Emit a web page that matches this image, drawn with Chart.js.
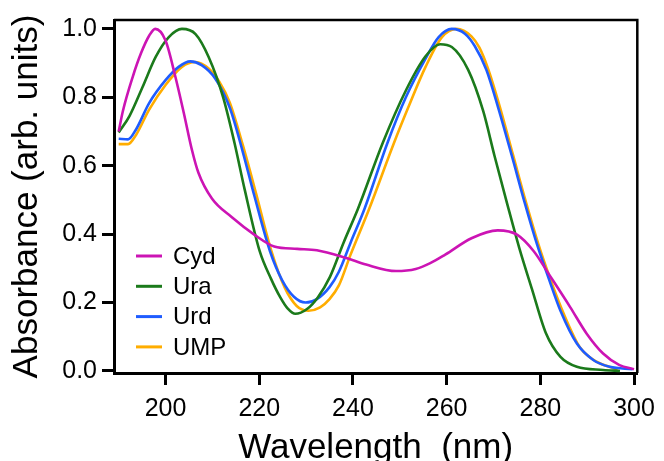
<!DOCTYPE html>
<html>
<head>
<meta charset="utf-8">
<script src="https://cdn.jsdelivr.net/npm/chart.js@4.4.1/dist/chart.umd.min.js"></script>
<style>
  html, body { margin: 0; padding: 0; background: #fff; }
  #wrap { width: 664px; height: 461px; }
</style>
</head>
<body>
<div id="wrap"><canvas id="absChart" width="664" height="461"></canvas></div>
<script>
// Absorption spectra: [wavelength nm, absorbance]
const cydData = [
  [190, 0.70], [190.9, 0.76], [193, 0.86], [194.8, 0.93], [196.5, 0.98], [197.8, 1.0],
  [200, 0.966], [202.1, 0.86], [203.9, 0.754], [205.6, 0.648], [207, 0.58], [209.9, 0.504],
  [214.1, 0.45], [219, 0.398], [223.2, 0.364], [228.1, 0.357], [232.3, 0.353], [238.6, 0.33],
  [242.8, 0.311], [249.2, 0.292], [253.4, 0.298], [256.5, 0.315], [259.7, 0.34], [265.3, 0.388],
  [270.9, 0.411], [275.1, 0.398], [278.6, 0.35], [282.1, 0.277], [286.4, 0.186], [289.9, 0.109],
  [293.4, 0.051], [296.9, 0.017], [300, 0.005]
];
const uraData = [
  [190, 0.697], [192.3, 0.745], [195.1, 0.83], [197.9, 0.918], [200.7, 0.976], [203.5, 1.0],
  [206.4, 0.985], [209.2, 0.918], [212.3, 0.80], [214.7, 0.668], [216.9, 0.53], [220.1, 0.35],
  [222.5, 0.27], [224.5, 0.215], [226.1, 0.182], [227.7, 0.167], [230.2, 0.181], [232.5, 0.215],
  [235.1, 0.275], [238, 0.375], [241.1, 0.475], [246.4, 0.668], [251.3, 0.82], [255.5, 0.92],
  [258.6, 0.955], [261.1, 0.947], [264.6, 0.88], [267.8, 0.76], [270.2, 0.63], [272.9, 0.49],
  [275.5, 0.36], [278.2, 0.24], [281.2, 0.11], [284.3, 0.041], [287.8, 0.012], [293.4, 0.003],
  [297, 0.0]
];
const urdData = [
  [190, 0.679], [192, 0.677], [193.7, 0.706], [196.5, 0.783], [200, 0.85], [202.8, 0.889],
  [205.3, 0.905], [207.7, 0.894], [210.6, 0.855], [213.7, 0.77], [216.5, 0.64], [219, 0.51],
  [222.3, 0.35], [224.9, 0.265], [227.4, 0.217], [229.9, 0.2], [232.3, 0.21], [235, 0.245],
  [237, 0.29], [239.5, 0.375], [242.5, 0.475], [247.4, 0.668], [251.3, 0.8], [255.5, 0.913],
  [258.3, 0.976], [261.1, 1.0], [263.9, 0.986], [266, 0.95], [268.5, 0.88], [271, 0.77],
  [273.9, 0.63], [276.6, 0.495], [279.3, 0.37], [281.8, 0.27], [284.3, 0.176], [287.8, 0.08],
  [291.3, 0.032], [294.8, 0.012], [299.7, 0.005]
];
const umpData = [
  [190, 0.663], [192, 0.663], [193.7, 0.69], [196.5, 0.764], [200, 0.836], [203.5, 0.889],
  [206.4, 0.903], [209.2, 0.884], [211.5, 0.845], [213.7, 0.785], [216.5, 0.66], [219.3, 0.52],
  [222.5, 0.355], [225.4, 0.245], [228, 0.19], [230.5, 0.176], [233, 0.186], [235, 0.21],
  [237, 0.25], [239.5, 0.34], [243.5, 0.475], [248.8, 0.668], [251.8, 0.77], [255.5, 0.889],
  [259, 0.976], [262.1, 1.0], [265.3, 0.978], [267, 0.945], [268.8, 0.885], [271.4, 0.77],
  [274.2, 0.63], [276.9, 0.495], [279.6, 0.37], [282.1, 0.27], [285, 0.167], [288.4, 0.07],
  [292, 0.027], [296.5, 0.005]
];

const seriesLabels = ["Cyd", "Ura", "Urd", "UMP"];
const seriesColors = ["#cc14b4", "#1b7a1b", "#1f5cff", "#ffad00"];
const xTicks = [200, 220, 240, 260, 280, 300];
const yTicks = [0.0, 0.2, 0.4, 0.6, 0.8, 1.0];

const FONT = "'Liberation Sans', Arial, sans-serif";

function toPoints(arr) {
  return arr.map((p) => ({ x: p[0], y: p[1] }));
}

// frame on top/right + legend inside plot
const framePlugin = {
  id: "frame",
  afterDraw(chart) {
    const { ctx, chartArea } = chart;
    ctx.save();
    ctx.strokeStyle = "#000";
    ctx.lineWidth = 2.5;
    ctx.beginPath();
    ctx.moveTo(chartArea.left, chartArea.top);
    ctx.lineTo(chartArea.right, chartArea.top);
    ctx.lineTo(chartArea.right, chartArea.bottom);
    ctx.stroke();

    // legend
    ctx.font = "24px " + FONT;
    ctx.textBaseline = "middle";
    ctx.textAlign = "left";
    chart.data.datasets.forEach((ds, i) => {
      const y = 256 + i * 30.3;
      ctx.strokeStyle = ds.borderColor;
      ctx.lineWidth = 3;
      ctx.beginPath();
      ctx.moveTo(136, y);
      ctx.lineTo(162, y);
      ctx.stroke();
      ctx.fillStyle = "#000";
      ctx.fillText(ds.label, 173, y + 1);
    });
    ctx.restore();
  },
};

function initAbsChart() {
  const ctx = document.getElementById("absChart").getContext("2d");
  const allData = [cydData, uraData, urdData, umpData];
  new Chart(ctx, {
    type: "line",
    data: {
      datasets: seriesLabels.map((label, i) => ({
        label: label,
        data: toPoints(allData[i]),
        borderColor: seriesColors[i],
        backgroundColor: seriesColors[i],
        borderWidth: 2.6,
        pointRadius: 0,
        cubicInterpolationMode: "monotone",
        fill: false,
      })),
    },
    options: {
      responsive: false,
      animation: false,
      layout: { padding: { top: 16, right: 19, left: 0, bottom: 0 } },
      plugins: {
        legend: { display: false },
        tooltip: { enabled: false },
      },
      scales: {
        x: {
          type: "linear",
          min: 189,
          max: 300.7,
          afterFit: (scale) => { scale.height = 88; },
          afterBuildTicks: (scale) => { scale.ticks = xTicks.map((v) => ({ value: v })); },
          border: { display: true, color: "#000", width: 3 },
          grid: { drawOnChartArea: false, drawTicks: true, tickLength: 12, tickWidth: 3, tickColor: "#000" },
          ticks: { color: "#000", padding: 9, maxRotation: 0, font: { family: FONT, size: 25 } },
          title: {
            display: true,
            text: "Wavelength  (nm)",
            color: "#000",
            font: { family: FONT, size: 35, lineHeight: 0.7 },
            padding: { top: 0, bottom: 0 },
          },
        },
        y: {
          type: "linear",
          min: -0.006,
          max: 1.026,
          afterFit: (scale) => { scale.width = 114; },
          afterBuildTicks: (scale) => { scale.ticks = yTicks.map((v) => ({ value: v })); },
          border: { display: true, color: "#000", width: 3 },
          grid: { drawOnChartArea: false, drawTicks: true, tickLength: 12, tickWidth: 3, tickColor: "#000" },
          ticks: {
            color: "#000",
            padding: 5,
            font: { family: FONT, size: 25 },
            callback: (v) => Number(v).toFixed(1),
          },
          title: {
            display: true,
            text: "Absorbance (arb. units)",
            color: "#000",
            font: { family: FONT, size: 35, lineHeight: 1 },
            padding: { top: 10, bottom: 0 },
          },
        },
      },
    },
    plugins: [framePlugin],
  });
}

document.addEventListener("DOMContentLoaded", () => {
  initAbsChart();
});
</script>
</body>
</html>
